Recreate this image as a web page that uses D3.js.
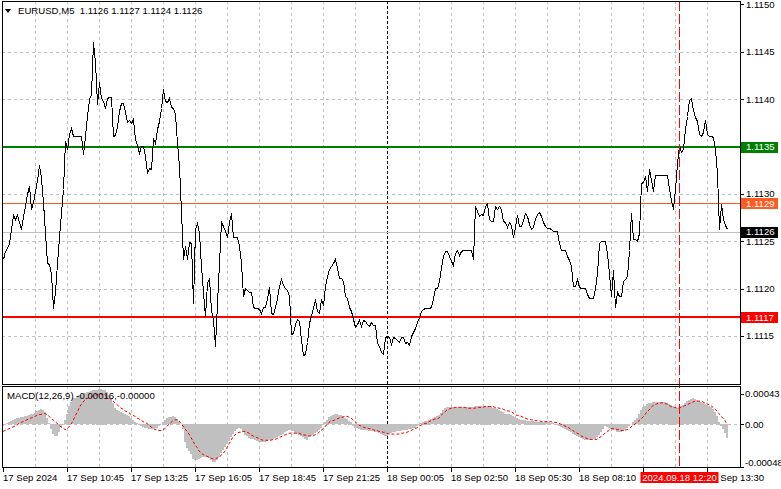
<!DOCTYPE html>
<html><head><meta charset="utf-8">
<script src="https://cdn.jsdelivr.net/npm/d3@7/dist/d3.min.js"></script>
<style>
html,body{margin:0;padding:0;background:#fff;}
svg{display:block;font-family:"Liberation Sans",Arial,sans-serif;}
</style></head><body>
<svg id="chart" width="781" height="489"></svg>
<script>
// ---------- DATA ----------
const symbolTitle = "EURUSD,M5  1.1126 1.1127 1.1124 1.1126";
const macdTitle = "MACD(12,26,9) -0.00016,-0.00000";

const closes = [
1.11231,1.11240,1.11243,1.11248,1.11263,1.11278,1.11273,1.11278,1.11270,1.11263,
1.11277,1.11287,1.11300,1.11308,1.11284,1.11291,1.11303,1.11315,1.11331,1.11317,
1.11291,1.11259,1.11227,1.11226,1.11215,1.11180,1.11196,1.11227,1.11254,1.11280,
1.11305,1.11356,1.11347,1.11363,1.11370,1.11361,1.11361,1.11361,1.11361,1.11361,
1.11342,1.11361,1.11382,1.11400,1.11405,1.11460,1.11439,1.11395,1.11418,1.11401,
1.11398,1.11391,1.11401,1.11402,1.11402,1.11361,1.11362,1.11372,1.11388,1.11396,
1.11396,1.11386,1.11376,1.11378,1.11375,1.11379,1.11358,1.11352,1.11343,1.11351,
1.11351,1.11340,1.11322,1.11327,1.11326,1.11359,1.11354,1.11369,1.11377,1.11391,
1.11411,1.11398,1.11397,1.11401,1.11392,1.11391,1.11384,1.11354,1.11329,1.11282,
1.11231,1.11245,1.11231,1.11249,1.11248,1.11185,1.11263,1.11269,1.11259,1.11224,
1.11196,1.11171,1.11206,1.11211,1.11178,1.11167,1.11139,1.11185,1.11227,1.11270,
1.11266,1.11261,1.11254,1.11270,1.11280,1.11255,1.11255,1.11255,1.11245,1.11227,
1.11192,1.11201,1.11199,1.11196,1.11196,1.11181,1.11180,1.11180,1.11179,
1.11174,1.11181,1.11181,1.11189,1.11202,1.11174,1.11173,1.11181,1.11190,1.11203,
1.11210,1.11204,1.11201,1.11199,1.11192,1.11152,1.11153,1.11163,1.11168,1.11166,
1.11146,1.11130,1.11131,1.11144,1.11164,1.11172,1.11180,1.11189,1.11176,1.11174,
1.11189,1.11183,1.11203,1.11213,1.11221,1.11224,1.11227,1.11231,1.11222,1.11211,
1.11211,1.11208,1.11192,1.11190,1.11181,1.11176,1.11168,1.11160,1.11163,1.11167,
1.11161,1.11167,1.11166,1.11163,1.11161,1.11165,1.11162,1.11162,1.11143,1.11140,
1.11133,1.11131,1.11149,1.11150,1.11149,1.11142,1.11149,1.11148,1.11146,1.11144,
1.11149,1.11149,1.11143,1.11144,1.11141,1.11150,1.11154,1.11159,1.11165,1.11170,
1.11176,1.11179,1.11180,1.11180,1.11180,1.11181,1.11190,1.11201,1.11201,1.11208,
1.11223,1.11234,1.11240,1.11240,1.11234,1.11229,1.11225,1.11238,1.11241,1.11235,
1.11240,1.11241,1.11241,1.11241,1.11241,1.11241,1.11231,1.11287,1.11282,1.11277,
1.11279,1.11278,1.11287,1.11290,1.11273,1.11271,1.11271,1.11287,1.11284,1.11287,
1.11284,1.11271,1.11270,1.11265,1.11270,1.11267,1.11254,1.11265,1.11278,1.11266,
1.11266,1.11272,1.11280,1.11277,1.11268,1.11263,1.11265,1.11273,1.11279,1.11281,
1.11277,1.11270,1.11266,1.11264,1.11264,1.11263,1.11261,1.11261,1.11261,1.11248,
1.11241,1.11241,1.11241,1.11234,1.11230,1.11224,1.11203,1.11203,1.11210,1.11202,
1.11201,1.11201,1.11201,1.11194,1.11190,1.11190,1.11190,1.11201,1.11217,1.11248,
1.11250,1.11250,1.11250,1.11238,1.11215,1.11192,1.11220,1.11181,1.11196,1.11192,
1.11192,1.11208,1.11210,1.11213,1.11241,1.11280,1.11252,1.11252,1.11250,1.11259,
1.11311,1.11313,1.11319,1.11303,1.11326,1.11315,1.11303,1.11320,1.11320,1.11320,
1.11320,1.11320,1.11320,1.11320,1.11305,1.11294,1.11284,1.11305,1.11333,1.11352,
1.11344,1.11347,1.11368,1.11382,1.11399,1.11401,1.11389,1.11381,1.11377,1.11363,
1.11361,1.11365,1.11378,1.11363,1.11361,1.11361,1.11360,1.11347,1.11321,1.11263,
1.11289,1.11274,1.11267,1.11263
];

const macdMain = [
-0.00002,-0.00001,0.00001,0.00002,0.00004,0.00005,0.00006,0.00007,0.00007,0.00008,
0.00008,0.00009,0.00009,0.00010,0.00011,0.00012,0.00013,0.00015,0.00016,0.00017,
0.00016,0.00014,0.00007,0.00001,-0.00006,-0.00011,-0.00014,-0.00013,-0.00009,-0.00003,
0.00000,0.00005,0.00012,0.00020,0.00025,0.00029,0.00030,0.00032,0.00033,0.00033,
0.00034,0.00035,0.00036,0.00036,0.00037,0.00038,0.00038,0.00039,0.00040,0.00040,
0.00039,0.00038,0.00036,0.00033,0.00029,0.00024,0.00018,0.00016,0.00015,0.00014,
0.00013,0.00011,0.00010,0.00009,0.00007,0.00005,0.00003,0.00001,-0.00001,-0.00002,
-0.00003,-0.00004,-0.00005,-0.00006,-0.00006,-0.00006,-0.00005,-0.00004,-0.00002,0.00000,
0.00003,0.00005,0.00007,0.00008,0.00008,0.00009,0.00008,0.00006,0.00004,0.00000,
-0.00006,-0.00020,-0.00027,-0.00030,-0.00034,-0.00039,-0.00041,-0.00041,-0.00039,-0.00038,
-0.00037,-0.00037,-0.00037,-0.00038,-0.00040,-0.00043,-0.00043,-0.00041,-0.00037,-0.00033,
-0.00029,-0.00026,-0.00023,-0.00019,-0.00015,-0.00011,-0.00008,-0.00006,-0.00005,-0.00006,
-0.00009,-0.00012,-0.00014,-0.00016,-0.00017,-0.00017,-0.00018,-0.00019,-0.00020,-0.00020,
-0.00020,-0.00020,-0.00019,-0.00018,-0.00018,-0.00017,-0.00016,-0.00015,-0.00013,-0.00012,
-0.00011,-0.00009,-0.00008,-0.00007,-0.00007,-0.00008,-0.00010,-0.00011,-0.00012,-0.00014,
-0.00015,-0.00017,-0.00018,-0.00015,-0.00013,-0.00012,-0.00010,-0.00009,-0.00007,-0.00005,
-0.00001,0.00002,0.00005,0.00008,0.00009,0.00010,0.00011,0.00011,0.00010,0.00010,
0.00009,0.00007,0.00006,0.00004,0.00002,-0.00002,-0.00005,-0.00005,-0.00006,-0.00007,
-0.00007,-0.00007,-0.00007,-0.00008,-0.00008,-0.00008,-0.00009,-0.00009,-0.00010,-0.00011,
-0.00012,-0.00013,-0.00013,-0.00011,-0.00010,-0.00009,-0.00009,-0.00008,-0.00008,-0.00008,
-0.00007,-0.00007,-0.00007,-0.00006,-0.00006,-0.00005,-0.00004,-0.00002,0.00000,0.00001,
0.00003,0.00004,0.00004,0.00005,0.00006,0.00007,0.00008,0.00009,0.00010,0.00013,
0.00016,0.00018,0.00019,0.00019,0.00019,0.00019,0.00019,0.00019,0.00019,0.00019,
0.00019,0.00019,0.00019,0.00019,0.00019,0.00019,0.00020,0.00020,0.00020,0.00021,
0.00021,0.00021,0.00021,0.00020,0.00020,0.00018,0.00018,0.00017,0.00016,0.00015,
0.00014,0.00012,0.00012,0.00011,0.00010,0.00009,0.00008,0.00007,0.00006,0.00005,
0.00005,0.00005,0.00004,0.00004,0.00004,0.00004,0.00003,0.00003,0.00003,0.00003,
0.00003,0.00003,0.00002,0.00002,0.00001,0.00001,0.00000,-0.00001,-0.00002,-0.00003,
-0.00005,-0.00006,-0.00007,-0.00008,-0.00009,-0.00011,-0.00012,-0.00013,-0.00015,-0.00016,
-0.00017,-0.00018,-0.00018,-0.00018,-0.00017,-0.00017,-0.00017,-0.00015,-0.00012,-0.00009,
-0.00006,-0.00002,-0.00003,-0.00005,-0.00006,-0.00007,-0.00007,-0.00009,-0.00009,-0.00009,
-0.00008,-0.00007,-0.00004,-0.00002,0.00000,0.00003,0.00005,0.00007,0.00012,0.00016,
0.00019,0.00021,0.00023,0.00024,0.00024,0.00025,0.00025,0.00025,0.00025,0.00025,
0.00025,0.00025,0.00024,0.00023,0.00022,0.00021,0.00019,0.00018,0.00019,0.00020,
0.00022,0.00024,0.00026,0.00027,0.00028,0.00029,0.00028,0.00027,0.00026,0.00025,
0.00024,0.00023,0.00022,0.00020,0.00019,0.00017,0.00014,0.00009,0.00003,-0.00002,
-0.00006,-0.00010,-0.00016
];

const macdSignal = [
-0.00008,-0.00007,-0.00006,-0.00005,-0.00004,-0.00003,-0.00002,-0.00001,0.00001,0.00002,
0.00003,0.00004,0.00005,0.00006,0.00007,0.00008,0.00009,0.00010,0.00011,0.00011,
0.00012,0.00012,0.00011,0.00009,0.00007,0.00005,0.00003,0.00001,-0.00001,-0.00003,
-0.00004,-0.00006,-0.00005,-0.00003,0.00000,0.00004,0.00009,0.00013,0.00018,0.00022,
0.00025,0.00027,0.00029,0.00030,0.00031,0.00032,0.00033,0.00033,0.00034,0.00034,
0.00033,0.00033,0.00031,0.00030,0.00028,0.00026,0.00024,0.00022,0.00020,0.00018,
0.00017,0.00015,0.00014,0.00013,0.00011,0.00010,0.00009,0.00007,0.00006,0.00005,
0.00003,0.00002,0.00001,-0.00001,-0.00003,-0.00004,-0.00006,-0.00006,-0.00007,-0.00007,
-0.00006,-0.00005,-0.00002,0.00000,0.00002,0.00004,0.00005,0.00005,0.00004,0.00001,
-0.00002,-0.00005,-0.00008,-0.00011,-0.00015,-0.00019,-0.00023,-0.00026,-0.00030,-0.00032,
-0.00034,-0.00035,-0.00036,-0.00037,-0.00038,-0.00039,-0.00039,-0.00038,-0.00037,-0.00035,
-0.00033,-0.00030,-0.00026,-0.00022,-0.00018,-0.00014,-0.00012,-0.00010,-0.00009,-0.00009,
-0.00008,-0.00008,-0.00009,-0.00010,-0.00012,-0.00013,-0.00014,-0.00015,-0.00016,-0.00017,
-0.00018,-0.00018,-0.00018,-0.00018,-0.00018,-0.00017,-0.00017,-0.00016,-0.00015,-0.00014,
-0.00013,-0.00012,-0.00011,-0.00010,-0.00010,-0.00010,-0.00010,-0.00010,-0.00010,-0.00011,
-0.00012,-0.00012,-0.00013,-0.00013,-0.00013,-0.00013,-0.00012,-0.00011,-0.00009,-0.00007,
-0.00005,-0.00003,0.00000,0.00002,0.00004,0.00004,0.00005,0.00006,0.00007,0.00008,
0.00008,0.00009,0.00009,0.00008,0.00007,0.00005,0.00003,0.00001,-0.00001,-0.00002,
-0.00003,-0.00004,-0.00004,-0.00005,-0.00005,-0.00006,-0.00007,-0.00007,-0.00008,-0.00008,
-0.00009,-0.00009,-0.00010,-0.00011,-0.00011,-0.00011,-0.00011,-0.00011,-0.00011,-0.00010,
-0.00010,-0.00009,-0.00009,-0.00008,-0.00007,-0.00006,-0.00005,-0.00004,-0.00002,-0.00001,
0.00000,0.00001,0.00001,0.00003,0.00004,0.00005,0.00006,0.00006,0.00007,0.00010,
0.00012,0.00014,0.00016,0.00017,0.00018,0.00018,0.00019,0.00019,0.00019,0.00019,
0.00019,0.00019,0.00018,0.00018,0.00018,0.00018,0.00018,0.00019,0.00019,0.00019,
0.00019,0.00020,0.00020,0.00020,0.00020,0.00020,0.00019,0.00019,0.00018,0.00018,
0.00017,0.00016,0.00015,0.00015,0.00014,0.00013,0.00011,0.00010,0.00010,0.00009,
0.00008,0.00007,0.00006,0.00006,0.00005,0.00005,0.00004,0.00004,0.00004,0.00003,
0.00003,0.00003,0.00003,0.00003,0.00003,0.00002,0.00002,0.00002,0.00001,0.00000,
-0.00001,-0.00002,-0.00003,-0.00004,-0.00006,-0.00007,-0.00009,-0.00010,-0.00011,-0.00013,
-0.00014,-0.00015,-0.00016,-0.00017,-0.00017,-0.00017,-0.00017,-0.00017,-0.00015,-0.00014,
-0.00012,-0.00010,-0.00008,-0.00007,-0.00005,-0.00005,-0.00005,-0.00006,-0.00006,-0.00007,
-0.00007,-0.00007,-0.00006,-0.00005,-0.00003,-0.00001,0.00000,0.00002,0.00004,0.00006,
0.00008,0.00011,0.00014,0.00016,0.00019,0.00021,0.00022,0.00023,0.00024,0.00024,
0.00024,0.00023,0.00023,0.00021,0.00020,0.00019,0.00019,0.00018,0.00018,0.00019,
0.00020,0.00021,0.00022,0.00023,0.00024,0.00025,0.00026,0.00026,0.00026,0.00026,
0.00025,0.00024,0.00023,0.00022,0.00021,0.00019,0.00017,0.00015,0.00012,0.00009,
0.00007,0.00004,0.00000
];

const priceTicks = [1.1150, 1.1145, 1.1140, 1.1135, 1.1130, 1.1125, 1.1120, 1.1115];
const priceGridLevels = [1.1145, 1.1140, 1.1135, 1.1130, 1.1125, 1.1120, 1.1115];
const resistanceLevel = 1.1135;
const supportLevel = 1.1117;
const askPrice = 1.1129;
const bidPrice = 1.1126;

const macdTicks = [0.00043, 0, -0.00048];
const macdTickLabels = ["0.00043", "0.00", "-0.00048"];

const timeLabels = ["17 Sep 2024","17 Sep 10:45","17 Sep 13:25","17 Sep 16:05","17 Sep 18:45",
  "17 Sep 21:25","18 Sep 00:05","18 Sep 02:50","18 Sep 05:30","18 Sep 08:10","18 Sep 10:50","18 Sep 13:30"];
const timeLabelBars = [0, 32, 64, 96, 128, 160, 192, 224, 256, 288, 320, 352];
const gridStepBars = 16;
const daySeparatorBar = 192;
const crosshairBar = 338;
const crosshairLabel = "2024.09.18 12:20";

// ---------- LAYOUT ----------
const W = 781, H = 489;
const left = 2, right = 740;
const mainTop = 1, mainBottom = 384;
const macdTop = 386, macdBottom = 467;
const FS = 9.6;

const svg = d3.select("#chart");
const n = closes.length;
const x = d3.scaleLinear().domain([0, n - 1]).range([3, 3 + 2 * (n - 1)]);
const y = d3.scaleLinear().domain([1.110994, 1.115025]).range([mainBottom, 2]);
const ym = d3.scaleLinear().domain([-0.00048, 0.00043]).range([macdBottom, macdTop]);
const px = v => Math.round(v) + 0.5;

svg.append("rect").attr("width", W).attr("height", H).attr("fill", "#fff");

// grid - vertical
const gridBars = d3.range(gridStepBars, n + gridStepBars, gridStepBars)
  .filter(b => x(b) < right - 1 && b !== daySeparatorBar);
[[mainTop, mainBottom], [macdTop, macdBottom]].forEach(([t, b]) => {
  svg.append("g").selectAll("line").data(gridBars).join("line")
    .attr("x1", d => px(x(d))).attr("x2", d => px(x(d)))
    .attr("y1", t).attr("y2", b)
    .attr("stroke", "#c0c0c0").attr("stroke-dasharray", "3,3");
});
// grid - horizontal
svg.append("g").selectAll("line").data(priceGridLevels).join("line")
  .attr("x1", left).attr("x2", right)
  .attr("y1", d => px(y(d))).attr("y2", d => px(y(d)))
  .attr("stroke", "#c0c0c0").attr("stroke-dasharray", "3,3");
svg.append("g").selectAll("line").data([0, -0.00048]).join("line")
  .attr("x1", left).attr("x2", right)
  .attr("y1", d => px(ym(d))).attr("y2", d => px(ym(d)))
  .attr("stroke", "#c0c0c0").attr("stroke-dasharray", "3,3");

// day separator
[[mainTop, mainBottom], [macdTop, macdBottom]].forEach(([t, b]) => {
  svg.append("line").attr("x1", px(x(daySeparatorBar))).attr("x2", px(x(daySeparatorBar)))
    .attr("y1", t).attr("y2", b).attr("stroke", "#000").attr("stroke-dasharray", "3,2");
});

// bid / ask lines
svg.append("line").attr("x1", left).attr("x2", right)
  .attr("y1", px(y(bidPrice))).attr("y2", px(y(bidPrice))).attr("stroke", "#c0c0c0");
svg.append("line").attr("x1", left).attr("x2", right)
  .attr("y1", px(y(askPrice))).attr("y2", px(y(askPrice))).attr("stroke", "#ff5a1f");

// support / resistance
svg.append("line").attr("x1", left).attr("x2", right)
  .attr("y1", Math.round(y(resistanceLevel))).attr("y2", Math.round(y(resistanceLevel)))
  .attr("stroke", "#008000").attr("stroke-width", 2);
svg.append("line").attr("x1", left).attr("x2", right)
  .attr("y1", Math.round(y(supportLevel))).attr("y2", Math.round(y(supportLevel)))
  .attr("stroke", "#ff0000").attr("stroke-width", 2);

// price line
svg.append("path").datum(closes)
  .attr("d", d3.line().x((d, i) => x(i) + 0.5).y(d => Math.round(y(d)) + 0.5))
  .attr("fill", "none").attr("stroke", "#000").attr("stroke-width", 1)
  .attr("shape-rendering", "crispEdges");

// MACD histogram
svg.append("g").selectAll("rect").data(macdMain).join("rect")
  .attr("x", (d, i) => x(i) - 1)
  .attr("width", 2)
  .attr("y", d => Math.round(Math.min(ym(d), ym(0))))
  .attr("height", d => Math.max(0, Math.round(Math.abs(ym(d) - ym(0)))))
  .attr("fill", "#c0c0c0").attr("shape-rendering", "crispEdges");

// MACD signal
svg.append("path").datum(macdSignal)
  .attr("d", d3.line().x((d, i) => x(i)).y(d => ym(d)))
  .attr("fill", "none").attr("stroke", "#ff0000").attr("stroke-width", 1)
  .attr("stroke-dasharray", "3,2");

// crosshair
svg.append("line").attr("x1", px(x(crosshairBar))).attr("x2", px(x(crosshairBar)))
  .attr("y1", mainTop).attr("y2", macdBottom)
  .attr("stroke", "#ff0000").attr("stroke-dasharray", "10,3");

// borders
const bc = "#000";
svg.append("rect").attr("x", left + 0.5).attr("y", mainTop + 0.5)
  .attr("width", right - left).attr("height", mainBottom - mainTop)
  .attr("fill", "none").attr("stroke", bc);
svg.append("rect").attr("x", left + 0.5).attr("y", macdTop + 0.5)
  .attr("width", right - left).attr("height", macdBottom - macdTop)
  .attr("fill", "none").attr("stroke", bc);

// right price axis
const ra = svg.append("g").attr("font-size", FS).attr("fill", "#000");
ra.selectAll("line").data(priceTicks).join("line")
  .attr("x1", right).attr("x2", right + 4)
  .attr("y1", d => px(y(d))).attr("y2", d => px(y(d))).attr("stroke", "#000");
ra.selectAll("text").data(priceTicks).join("text")
  .attr("x", right + 6).attr("y", d => y(d) + 3.4)
  .text(d => d.toFixed(4));

// price level boxes
const boxes = [
  {v: resistanceLevel, c: "#008000"},
  {v: askPrice, c: "#ff5a1f"},
  {v: bidPrice, c: "#000000"},
  {v: supportLevel, c: "#ff0000"}
];
boxes.forEach(b => {
  const yc = y(b.v);
  svg.append("rect").attr("x", right + 1).attr("y", Math.round(yc) - 5)
    .attr("width", 37).attr("height", 11).attr("fill", b.c);
  svg.append("text").attr("x", right + 6).attr("y", yc + 3.6)
    .attr("font-size", FS).attr("fill", "#fff").text(b.v.toFixed(4));
});

// right MACD axis
const ma = svg.append("g").attr("font-size", FS).attr("fill", "#000");
ma.selectAll("line").data(macdTicks).join("line")
  .attr("x1", right).attr("x2", right + 4)
  .attr("y1", d => px(d === macdTicks[0] ? 394 - 0 : ym(d)))
  .attr("y2", d => px(d === macdTicks[0] ? 394 - 0 : ym(d)))
  .attr("stroke", "#000");
ma.selectAll("text").data(macdTicks).join("text")
  .attr("x", right + 5)
  .attr("y", (d, i) => (i === 0 ? ym(d) + 8 : i === 2 ? ym(d) - 4.3 : ym(d)) + 3.4)
  .text((d, i) => macdTickLabels[i]);

// bottom time axis
const ta = svg.append("g").attr("font-size", FS).attr("fill", "#000");
ta.selectAll("line").data(timeLabelBars).join("line")
  .attr("x1", d => px(x(d))).attr("x2", d => px(x(d)))
  .attr("y1", macdBottom).attr("y2", macdBottom + 5).attr("stroke", "#000");
ta.selectAll("text").data(timeLabels).join("text")
  .attr("x", (d, i) => x(timeLabelBars[i]))
  .attr("y", 481).text(d => d);

// crosshair time label
const cx = x(crosshairBar) + 0.5;
svg.append("rect").attr("x", cx - 39).attr("y", 472).attr("width", 78).attr("height", 11)
  .attr("fill", "#ff0000");
svg.append("text").attr("x", cx).attr("y", 481).attr("text-anchor", "middle")
  .attr("font-size", FS).attr("fill", "#fff").text(crosshairLabel);

// titles
svg.append("path").attr("d", "M5,9 L11,9 L8,13 Z").attr("fill", "#000");
svg.append("text").attr("x", 18).attr("y", 14).attr("font-size", FS).attr("fill", "#000")
  .attr("xml:space", "preserve").style("white-space", "pre").text(symbolTitle);
svg.append("text").attr("x", 7).attr("y", 399).attr("font-size", FS).attr("fill", "#000")
  .text(macdTitle);
</script>
</body></html>
